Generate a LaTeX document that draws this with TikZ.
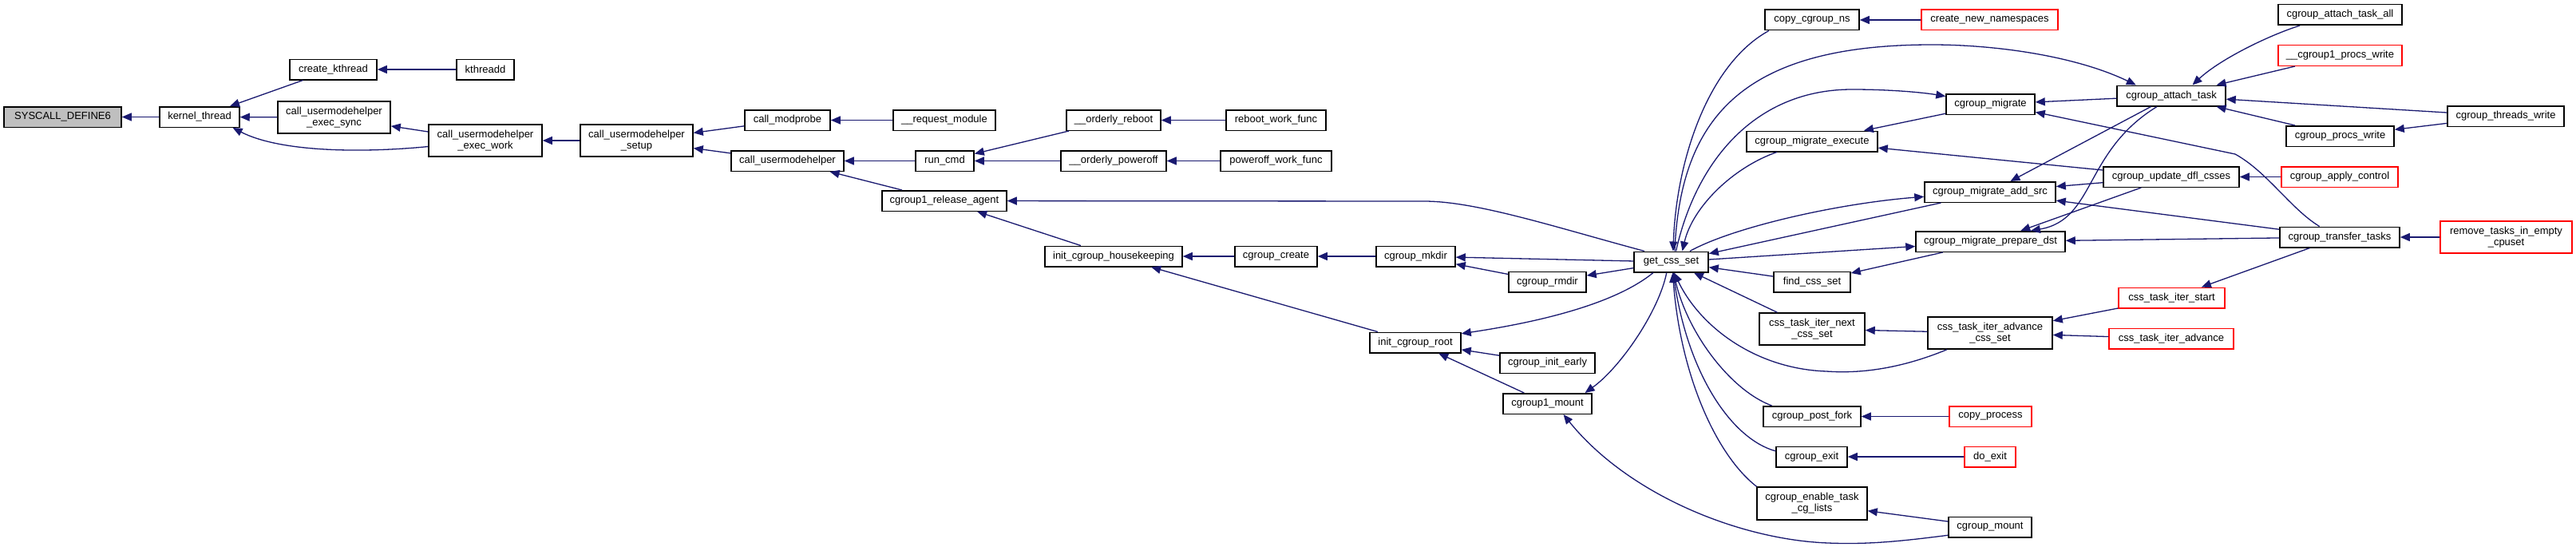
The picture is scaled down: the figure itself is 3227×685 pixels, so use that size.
\documentclass[tikz,border=0pt]{standalone}
\usepackage{fontspec}
\setmainfont{Liberation Sans}
\usetikzlibrary{arrows.meta}
\definecolor{edgeblue}{HTML}{191970}
\definecolor{trunc}{HTML}{FF0000}
\definecolor{rootfill}{HTML}{BFBFBF}
\tikzset{
  fn/.style={draw=black, line width=1.5pt, fill=white, rectangle, inner sep=0pt, align=center,
    font=\fontsize{13}{14}\selectfont, minimum height=25.5pt},
  fn2/.style={fn, minimum height=40pt},
  truncbox/.style={draw=trunc},
  call/.style={draw=edgeblue, line width=1.3pt, -{Triangle[length=12pt,width=10pt]}}
}
\begin{document}
\begin{tikzpicture}[x=1pt,y=-1pt]
\fill[white] (0,0) rectangle (3227,685);
\useasboundingbox (0,0) rectangle (3227,685);

% nodes
\node[fn, minimum width=147pt, fill=rootfill] (syscall) at (78.5,146.5) {SYSCALL\_DEFINE6};
\node[fn, minimum width=100pt] (kthread) at (250,146.5) {kernel\_thread};
\node[fn, minimum width=109pt] (ckthread) at (417.5,87) {create\_kthread};
\node[fn, minimum width=72pt] (kthreadd) at (608,87) {kthreadd};
\node[fn2, minimum width=141pt] (esync) at (418.5,147) {call\_usermodehelper\\\_exec\_sync};
\node[fn2, minimum width=142pt] (ework) at (608,176) {call\_usermodehelper\\\_exec\_work};
\node[fn2, minimum width=141pt] (setup) at (797.5,176) {call\_usermodehelper\\\_setup};
\node[fn, minimum width=107pt] (modprobe) at (986.5,150.5) {call\_modprobe};
\node[fn, minimum width=128pt] (reqmod) at (1183,150.5) {\_\_request\_module};
\node[fn, minimum width=141pt] (umh) at (986.5,201.5) {call\_usermodehelper};
\node[fn, minimum width=73pt] (runcmd) at (1183.5,201.5) {run\_cmd};
\node[fn, minimum width=118pt] (oreboot) at (1395,150.5) {\_\_orderly\_reboot};
\node[fn, minimum width=132pt] (opoweroff) at (1395,201.5) {\_\_orderly\_poweroff};
\node[fn, minimum width=125pt] (rebootwf) at (1598.5,150.5) {reboot\_work\_func};
\node[fn, minimum width=139pt] (poweroffwf) at (1598.5,201.5) {poweroff\_work\_func};
\node[fn, minimum width=156pt] (relagent) at (1183,251.5) {cgroup1\_release\_agent};
\node[fn, minimum width=172pt] (housekeep) at (1395,321) {init\_cgroup\_housekeeping};
\node[fn, minimum width=103pt] (ccreate) at (1598.5,321) {cgroup\_create};
\node[fn, minimum width=99pt] (mkdir) at (1773.5,321) {cgroup\_mkdir};
\node[fn, minimum width=93pt] (gcs) at (2093.5,328) {get\_css\_set};
\node[fn, minimum width=97pt] (rmdir) at (1938.5,353) {cgroup\_rmdir};
\node[fn, minimum width=96pt] (findcss) at (2270,353) {find\_css\_set};
\node[fn, minimum width=114pt] (initroot) at (1773,429) {init\_cgroup\_root};
\node[fn, minimum width=119pt] (initearly) at (1938.5,454.5) {cgroup\_init\_early};
\node[fn, minimum width=111pt] (c1mount) at (1938.5,505.5) {cgroup1\_mount};
\node[fn2, minimum width=132pt] (nextcss) at (2270,412) {css\_task\_iter\_next\\\_css\_set};
\node[fn2, minimum width=156pt] (advcss) at (2493,417) {css\_task\_iter\_advance\\\_css\_set};
\node[fn, minimum width=122pt] (postfork) at (2270,521.5) {cgroup\_post\_fork};
\node[fn, minimum width=89pt] (cexit) at (2269.5,572) {cgroup\_exit};
\node[fn2, minimum width=138pt, minimum height=41pt] (enabletl) at (2270,630.5) {cgroup\_enable\_task\\\_cg\_lists};
\node[fn, truncbox, minimum width=103pt] (copyproc) at (2493.5,521.5) {copy\_process};
\node[fn, truncbox, minimum width=64pt] (doexit) at (2493,572) {do\_exit};
\node[fn, minimum width=104pt] (cmount) at (2493,660) {cgroup\_mount};
\node[fn, minimum width=118pt] (copyns) at (2270,25) {copy\_cgroup\_ns};
\node[fn, minimum width=164pt] (mexec) at (2270,177) {cgroup\_migrate\_execute};
\node[fn, truncbox, minimum width=171pt] (newns) at (2492.5,25) {create\_new\_namespaces};
\node[fn, minimum width=155pt] (attachall) at (2931.5,18.5) {cgroup\_attach\_task\_all};
\node[fn, truncbox, minimum width=155pt] (procsw1) at (2931.5,69.5) {\_\_cgroup1\_procs\_write};
\node[fn, minimum width=136pt] (attach) at (2720,120) {cgroup\_attach\_task};
\node[fn, minimum width=111pt] (migrate) at (2493.5,130.5) {cgroup\_migrate};
\node[fn, minimum width=146pt] (threadsw) at (3139,145.5) {cgroup\_threads\_write};
\node[fn, minimum width=135pt] (procsw) at (2931.5,170.5) {cgroup\_procs\_write};
\node[fn, minimum width=170pt] (updfl) at (2720,221.5) {cgroup\_update\_dfl\_csses};
\node[fn, truncbox, minimum width=146pt] (applyctl) at (2931,221.5) {cgroup\_apply\_control};
\node[fn, minimum width=164pt] (addsrc) at (2493,240.5) {cgroup\_migrate\_add\_src};
\node[fn, minimum width=187pt] (prepdst) at (2493.5,302.5) {cgroup\_migrate\_prepare\_dst};
\node[fn, minimum width=150pt] (transfer) at (2931,297) {cgroup\_transfer\_tasks};
\node[fn2, truncbox, minimum width=165pt] (rmtasks) at (3139.5,297) {remove\_tasks\_in\_empty\\\_cpuset};
\node[fn, truncbox, minimum width=133pt] (itstart) at (2720.5,373) {css\_task\_iter\_start};
\node[fn, truncbox, minimum width=156pt] (itadv) at (2720,424) {css\_task\_iter\_advance};

% edges (caller -> callee, head at callee)
\draw[call] (kthread) -- (syscall);
\draw[call] (ckthread) -- (kthread);
\draw[call] (esync) -- (kthread);
\draw[call] (ework.186) .. controls (450,192) and (350,190) .. (kthread.-18);
\draw[call] (kthreadd) -- (ckthread);
\draw[call] (ework) -- (esync);
\draw[call] (setup) -- (ework);
\draw[call] (modprobe) -- (setup);
\draw[call] (umh) -- (setup);
\draw[call] (reqmod) -- (modprobe);
\draw[call] (runcmd) -- (umh);
\draw[call] (relagent) -- (umh);
\draw[call] (oreboot) -- (runcmd);
\draw[call] (opoweroff) -- (runcmd);
\draw[call] (rebootwf) -- (oreboot);
\draw[call] (poweroffwf) -- (opoweroff);
\draw[call] (gcs.158) .. controls (1950,285) and (1850,252) .. (1784,252) -- (relagent);
\draw[call] (housekeep) -- (relagent);
\draw[call] (ccreate) -- (housekeep);
\draw[call] (initroot) -- (housekeep);
\draw[call] (mkdir) -- (ccreate);
\draw[call] (gcs) -- (mkdir);
\draw[call] (rmdir) -- (mkdir);
\draw[call] (gcs) -- (rmdir);
\draw[call] (gcs.211) .. controls (2030,375) and (1950,400) .. (initroot.11);
\draw[call] (initearly) -- (initroot);
\draw[call] (c1mount) -- (initroot);
\draw[call] (gcs.247) .. controls (2078,390) and (2030,460) .. (c1mount.16);
\draw[call] (cmount.191) .. controls (2380,678) and (2340,682) .. (2290,680) .. controls (2180,676) and (2040,620) .. (c1mount.-34);
\draw[call] (copyns.194) .. controls (2140,80) and (2100,200) .. (gcs.80);
\draw[call] (newns) -- (copyns);
\draw[call] (gcs.72) .. controls (2105,150) and (2180,56) .. (2420,56) .. controls (2500,56) and (2600,70) .. (attach.163);
\draw[call] (gcs.66) .. controls (2125,200) and (2200,112) .. (2320,112) .. controls (2370,112) and (2410,116) .. (migrate.170);
\draw[call] (migrate) -- (mexec);
\draw[call] (updfl) -- (mexec);
\draw[call] (mexec.197) .. controls (2170,210) and (2120,260) .. (gcs.44);
\draw[call] (gcs.30) .. controls (2170,285) and (2300,255) .. (addsrc.184);
\draw[call] (addsrc) -- (gcs);
\draw[call] (gcs) -- (prepdst);
\draw[call] (prepdst) -- (findcss);
\draw[call] (findcss) -- (gcs);
\draw[call] (nextcss) -- (gcs);
\draw[call] (advcss) -- (nextcss);
\draw[call] (advcss.201) .. controls (2380,462) and (2330,468) .. (2288,465) .. controls (2200,462) and (2130,410) .. (gcs.-75);
\draw[call] (postfork.165) .. controls (2170,490) and (2115,420) .. (gcs.-78);
\draw[call] (cexit.171) .. controls (2170,550) and (2115,470) .. (gcs.-80);
\draw[call] (enabletl.163) .. controls (2150,570) and (2105,470) .. (gcs.-82);
\draw[call] (copyproc) -- (postfork);
\draw[call] (doexit) -- (cexit);
\draw[call] (cmount) -- (enabletl);
\draw[call] (attachall.195) .. controls (2840,45) and (2780,75) .. (attach.27);
\draw[call] (procsw1) -- (attach);
\draw[call] (threadsw) -- (attach);
\draw[call] (procsw) -- (attach);
\draw[call] (threadsw) -- (procsw);
\draw[call] (attach) -- (migrate);
\draw[call] (transfer.152) .. controls (2870,262) and (2840,215) .. (2800,193) -- (migrate.-10);
\draw[call] (attach) -- (addsrc);
\draw[call] (attach.217) .. controls (2610,190) and (2625,275) .. (prepdst.15);
\draw[call] (updfl) -- (addsrc);
\draw[call] (updfl) -- (prepdst);
\draw[call] (applyctl) -- (updfl);
\draw[call] (transfer) -- (addsrc);
\draw[call] (transfer) -- (prepdst);
\draw[call] (rmtasks) -- (transfer);
\draw[call] (transfer) -- (itstart);
\draw[call] (itstart) -- (advcss);
\draw[call] (itadv) -- (advcss);
\end{tikzpicture}
\end{document}
